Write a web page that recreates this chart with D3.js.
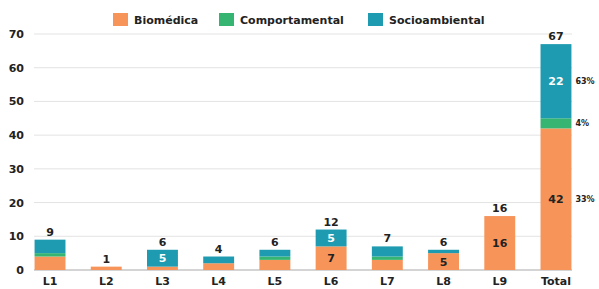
<!DOCTYPE html>
<html>
<head>
<meta charset="utf-8">
<script src="https://cdn.jsdelivr.net/npm/d3@7"></script>
<style>
  html, body { margin: 0; padding: 0; background: #fff; overflow: hidden; }
  svg { display: block; }
</style>
</head>
<body>
<div class="container"></div>
<script>
const categories = ["L1", "L2", "L3", "L4", "L5", "L6", "L7", "L8", "L9", "Total"];
const biomedica = [4, 1, 1, 2, 3, 7, 3, 5, 16, 42];
const comportamental = [1, 0, 0, 0, 1, 0, 1, 0, 0, 3];
const socioambiental = [4, 0, 5, 2, 2, 5, 3, 1, 0, 22];
const seriesNames = ["Biomédica", "Comportamental", "Socioambiental"];
const colors = ["#f79459", "#35b571", "#1e9bb0"];
const yTicks = [0, 10, 20, 30, 40, 50, 60, 70];
const totalPercents = ["33%", "4%", "63%"];

const width = 599;
const height = 289;
const margin = { top: 34, right: 27, bottom: 19, left: 34 };
const innerWidth = width - margin.left - margin.right;
const innerHeight = height - margin.top - margin.bottom;
const font = "DejaVu Sans, Verdana, sans-serif";

const rows = categories.map((c, i) => ({
  cat: c,
  "Biomédica": biomedica[i],
  "Comportamental": comportamental[i],
  "Socioambiental": socioambiental[i],
}));

const stack = d3.stack().keys(seriesNames)(rows);

const svg = d3
  .select(".container")
  .append("svg")
  .attr("width", width)
  .attr("height", height)
  .attr("font-family", font)
  .attr("font-weight", "bold");

const g = svg.append("g").attr("transform", `translate(${margin.left},${margin.top})`);

const xScale = d3
  .scaleBand()
  .domain(categories)
  .range([0, innerWidth])
  .paddingInner(0.45)
  .paddingOuter(0.01);

const yScale = d3.scaleLinear().domain([0, 70]).range([innerHeight, 0]);

// grid
g.selectAll(".grid")
  .data(yTicks)
  .enter()
  .append("line")
  .attr("x1", 0)
  .attr("x2", innerWidth)
  .attr("y1", (d) => yScale(d))
  .attr("y2", (d) => yScale(d))
  .attr("stroke", (d) => (d === 0 ? "#d4d4d4" : "#e3e3e3"))
  .attr("stroke-width", (d) => (d === 0 ? 2 : 1));

// y axis labels
const yAxis = d3.axisLeft(yScale).tickValues(yTicks).tickSize(0).tickPadding(10);
const ya = g.append("g").call(yAxis).attr("font-family", font).attr("font-size", 11);
ya.select(".domain").remove();
ya.selectAll("text").attr("fill", "#222");

// x axis labels
const xAxis = d3.axisBottom(xScale).tickSize(0).tickPadding(7);
const xa = g.append("g").attr("transform", `translate(0,${innerHeight})`).call(xAxis)
  .attr("font-family", font).attr("font-size", 11);
xa.select(".domain").remove();
xa.selectAll("text").attr("fill", "#222");

// bars
const bw = xScale.bandwidth();
stack.forEach((layer, li) => {
  g.selectAll(".bar" + li)
    .data(layer.filter((d) => d[1] > d[0]))
    .enter()
    .append("rect")
    .attr("x", (d) => xScale(d.data.cat))
    .attr("y", (d) => yScale(d[1]))
    .attr("width", bw)
    .attr("height", (d) => yScale(d[0]) - yScale(d[1]))
    .attr("fill", colors[li]);

  // value labels inside segments
  g.selectAll(".lab" + li)
    .data(layer.filter((d) => d[1] - d[0] >= 5))
    .enter()
    .append("text")
    .attr("x", (d) => xScale(d.data.cat) + bw / 2)
    .attr("y", (d) => (yScale(d[0]) + yScale(d[1])) / 2 + 4)
    .attr("text-anchor", "middle")
    .attr("font-size", 11)
    .attr("fill", li === 2 ? "#fff" : "#222")
    .text((d) => d[1] - d[0]);
});

// totals on top
g.selectAll(".tot")
  .data(rows)
  .enter()
  .append("text")
  .attr("x", (d) => xScale(d.cat) + bw / 2)
  .attr("y", (d, i) => yScale(biomedica[i] + comportamental[i] + socioambiental[i]) - 4)
  .attr("text-anchor", "middle")
  .attr("font-size", 11)
  .attr("fill", "#222")
  .text((d, i) => biomedica[i] + comportamental[i] + socioambiental[i]);

// percentages next to Total bar
const lastIdx = categories.length - 1;
stack.forEach((layer, li) => {
  const d = layer[lastIdx];
  g.append("text")
    .attr("x", xScale("Total") + bw + 4)
    .attr("y", (yScale(d[0]) + yScale(d[1])) / 2 + 3)
    .attr("font-size", 8)
    .attr("fill", "#222")
    .text(totalPercents[li]);
});

// legend
const legendX = [113, 219, 368];
const legend = svg.selectAll(".legend").data(seriesNames).enter().append("g")
  .attr("transform", (d, i) => `translate(${legendX[i]},13)`);
legend.append("rect").attr("width", 15).attr("height", 13).attr("fill", (d, i) => colors[i]);
legend.append("text")
  .attr("x", 21)
  .attr("y", 11)
  .attr("font-size", 11)
  .attr("fill", "#222")
  .text((d) => d);
</script>
</body>
</html>
